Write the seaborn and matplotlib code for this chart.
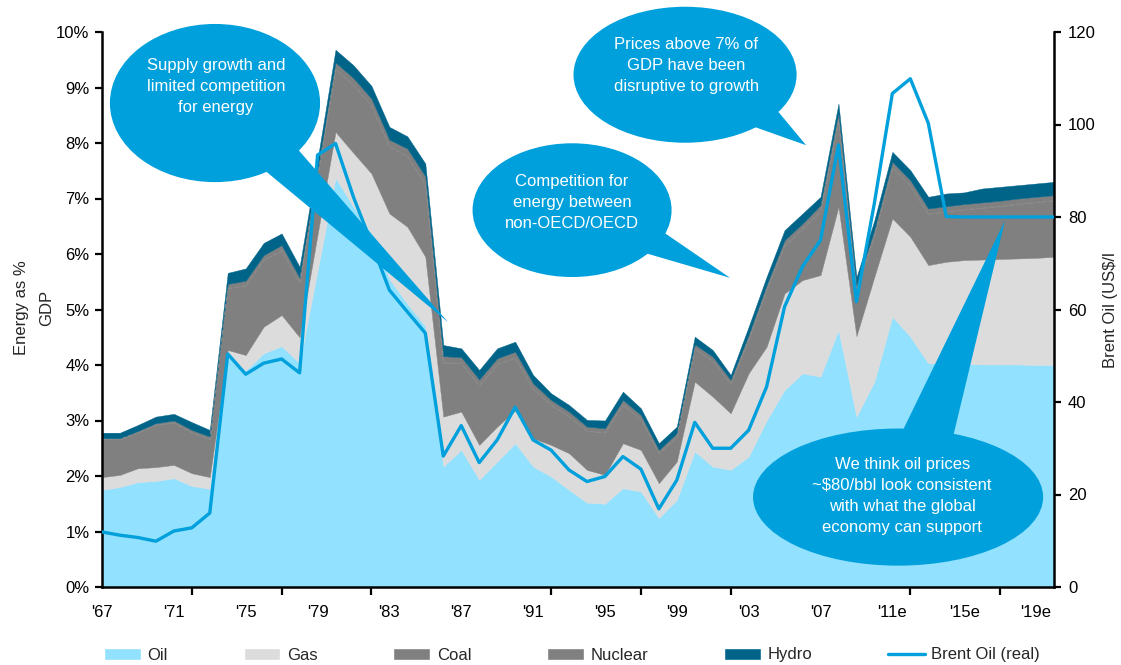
import numpy as np
import matplotlib
matplotlib.use("Agg")
import matplotlib.pyplot as plt
import seaborn as sns
from matplotlib.patches import Ellipse, Polygon, Patch
from matplotlib.lines import Line2D
from matplotlib.ticker import FixedLocator, FixedFormatter

# ---------------- data ----------------
years = list(range(1967, 2021))
oil = [1.75, 1.80, 1.89, 1.91, 1.96, 1.82, 1.77, 4.17, 3.90, 4.21,
       4.34, 4.03, 5.70, 7.37, 6.85, 6.37, 5.55, 5.10, 4.70, 2.17,
       2.47, 1.93, 2.26, 2.59, 2.17, 1.99, 1.75, 1.52, 1.50, 1.78,
       1.72, 1.24, 1.57, 2.44, 2.17, 2.11, 2.35, 3.00, 3.55, 3.85,
       3.79, 4.63, 3.07, 3.70, 4.87, 4.51, 4.03, 4.02, 4.02, 4.01,
       4.01, 4.01, 4.00, 4.00]
gas = [0.23, 0.22, 0.25, 0.25, 0.24, 0.23, 0.21, 0.10, 0.28, 0.48,
       0.56, 0.47, 0.65, 0.83, 0.97, 1.08, 1.18, 1.39, 1.25, 0.90,
       0.69, 0.63, 0.63, 0.59, 0.51, 0.57, 0.66, 0.59, 0.52, 0.81,
       0.75, 0.63, 0.69, 1.26, 1.26, 1.02, 1.50, 1.33, 1.74, 1.68,
       1.83, 2.22, 1.45, 1.89, 1.77, 1.80, 1.77, 1.84, 1.87, 1.89,
       1.90, 1.91, 1.93, 1.95]
coal = [0.68, 0.64, 0.64, 0.76, 0.76, 0.73, 0.68, 1.11, 1.25, 1.20,
        1.16, 0.98, 1.05, 1.13, 1.22, 1.22, 1.20, 1.27, 1.31, 0.97,
        0.87, 1.07, 1.12, 0.95, 0.89, 0.72, 0.66, 0.70, 0.76, 0.69,
        0.55, 0.54, 0.44, 0.59, 0.64, 0.53, 0.61, 1.02, 0.86, 0.92,
        1.15, 1.57, 0.82, 0.74, 0.92, 0.92, 0.92, 0.90, 0.91, 0.93,
        0.95, 0.98, 1.00, 1.01]
nuclear = [0.02, 0.02, 0.03, 0.03, 0.04, 0.05, 0.05, 0.08, 0.09, 0.09,
           0.10, 0.09, 0.10, 0.12, 0.13, 0.13, 0.13, 0.14, 0.14, 0.12,
           0.11, 0.11, 0.11, 0.11, 0.10, 0.09, 0.09, 0.08, 0.08, 0.09,
           0.08, 0.06, 0.07, 0.08, 0.08, 0.07, 0.08, 0.09, 0.10, 0.10,
           0.11, 0.12, 0.10, 0.10, 0.10, 0.10, 0.10, 0.10, 0.10, 0.10,
           0.10, 0.10, 0.10, 0.10]
hydro = [0.10, 0.10, 0.11, 0.12, 0.12, 0.14, 0.12, 0.20, 0.22, 0.22,
         0.21, 0.20, 0.20, 0.23, 0.23, 0.23, 0.23, 0.22, 0.23, 0.20,
         0.16, 0.17, 0.18, 0.18, 0.15, 0.12, 0.12, 0.12, 0.14, 0.15,
         0.12, 0.12, 0.12, 0.14, 0.12, 0.09, 0.15, 0.15, 0.18, 0.18,
         0.15, 0.17, 0.14, 0.18, 0.18, 0.18, 0.21, 0.23, 0.21, 0.25,
         0.25, 0.24, 0.24, 0.24]
brent = [11.9, 11.2, 10.7, 9.9, 12.1, 12.8, 16.0, 50.4, 46.0, 48.4,
         49.3, 46.3, 93.4, 95.9, 84.3, 74.4, 64.2, 59.5, 54.9, 28.3,
         34.9, 26.9, 31.8, 38.9, 31.8, 29.6, 25.3, 22.8, 23.9, 28.2,
         25.5, 16.9, 23.1, 35.6, 30.0, 30.0, 33.9, 43.3, 60.6, 69.3,
         75.0, 95.6, 61.7, 83.0, 106.7, 109.9, 100.3, 80.1, 80, 80,
         80, 80, 80, 80]
label_years = list(range(1967, 2020, 4))
tick_labels = ["'67", "'71", "'75", "'79", "'83", "'87", "'91", "'95",
               "'99", "'03", "'07", "'11e", "'15e", "'19e"]
series_names = ["Oil", "Gas", "Coal", "Nuclear", "Hydro"]
line_name = "Brent Oil (real)"

# ---------------- style ----------------
sns.set_theme(style="white")
plt.rcParams["font.family"] = ["Liberation Sans", "DejaVu Sans"]
plt.rcParams["font.size"] = 12

c_oil = "#91E1FF"
c_gas = "#DCDCDC"
c_coal = "#808080"
c_nuc = "#808080"
c_hydro = "#006489"
c_brent = "#00A0DC"
c_bubble = "#00A0DC"

fig = plt.figure(figsize=(11.21, 6.65), dpi=100)
L, R, T, B = 102 / 1121, 1054 / 1121, 1 - 32 / 665, 1 - 587 / 665
ax = fig.add_axes([L, B, R - L, T - B])

yrs = np.array(years)
stack = np.vstack([oil, gas, coal, nuclear, hydro])
ax.stackplot(yrs, stack, colors=[c_oil, c_gas, c_coal, c_nuc, c_hydro],
             linewidth=0.3, edgecolor="face", zorder=1)
cum = np.cumsum(stack, axis=0)
ax.plot(yrs, cum[2], color="#8e8e8e", lw=0.6, ls=(0, (5, 3)), zorder=2)

ax.set_xlim(1967, 2020)
ax.set_ylim(0, 10)
ax.set_yticks(np.arange(0, 11, 1))
ax.set_yticklabels([f"{i}%" for i in range(0, 11)])
ax.xaxis.set_major_locator(FixedLocator(label_years))
ax.xaxis.set_major_formatter(FixedFormatter(tick_labels))
ax.xaxis.set_minor_locator(FixedLocator(list(range(1967, 2020, 5))))
ax.tick_params(axis="x", which="major", length=0, pad=13, labelsize=12, colors="black")
ax.tick_params(axis="x", which="minor", length=6, width=1.6, direction="out",
               bottom=True, color="black")
ax.tick_params(axis="y", which="major", length=5, width=1.6, direction="out",
               pad=4, labelsize=12, left=True, colors="black")
for s in ["top", "right"]:
    ax.spines[s].set_visible(False)
for s in ["left", "bottom"]:
    ax.spines[s].set_color("black")
    ax.spines[s].set_linewidth(1.8)
ax.grid(False)

ax2 = ax.twinx()
sns.lineplot(x=yrs, y=brent, ax=ax2, color=c_brent, lw=2.4, zorder=3)
ax2.set_ylim(0, 120)
ax2.set_yticks(np.arange(0, 121, 20))
ax2.tick_params(axis="y", which="major", length=5, width=1.6, direction="out",
                pad=5, labelsize=12, right=True, colors="black")
for s in ["top", "left", "bottom"]:
    ax2.spines[s].set_visible(False)
ax2.spines["right"].set_color("black")
ax2.spines["right"].set_linewidth(1.8)
ax2.set_ylabel("")
ax2.grid(False)

# ---------------- speech bubbles (annotation shapes in data coords) ----------------
bubbles = [
    dict(c=(1973.29, 8.72), w=11.7, h=2.85,
         tail=[(1977.6, 8.0), (1975.9, 7.55), (1986.27, 4.77)],
         text="Supply growth and\nlimited competition\nfor energy", t=(1973.35, 9.01)),
    dict(c=(1993.17, 6.79), w=11.08, h=2.41,
         tail=[(1998.0, 6.45), (1996.9, 6.05), (2001.97, 5.57)],
         text="Competition for\nenergy between\nnon-OECD/OECD", t=(1993.17, 6.92)),
    dict(c=(1999.46, 9.23), w=12.42, h=2.45,
         tail=[(2004.3, 8.7), (2002.8, 8.35), (2006.2, 7.96)],
         text="Prices above 7% of\nGDP have been\ndisruptive to growth", t=(1999.52, 9.39)),
    dict(c=(2011.32, 1.62), w=16.15, h=2.47,
         tail=[(2011.4, 2.7), (2014.3, 2.6), (2017.28, 6.61)],
         text="We think oil prices\n~$80/bbl look consistent\nwith what the global\neconomy can support",
         t=(2011.55, 1.64)),
]
for b in bubbles:
    e = Ellipse(b["c"], b["w"], b["h"], transform=ax.transData, facecolor=c_bubble,
                edgecolor="none", zorder=5, clip_on=False)
    ax2.add_patch(e)
    p = Polygon(b["tail"], closed=True, transform=ax.transData, facecolor=c_bubble,
                edgecolor="none", zorder=5, clip_on=False)
    ax2.add_patch(p)
    ax2.text(b["t"][0], b["t"][1], b["text"], transform=ax.transData, ha="center",
             va="center", color="white", fontsize=12, linespacing=1.5, zorder=6)
ax2.set_ylim(0, 120)
ax.set_xlim(1967, 2020)

# ---------------- axis titles ----------------
fig.text(34 / 1121, 1 - 308 / 665, "Energy as %\nGDP", rotation=90, ha="center",
         va="center", fontsize=12, linespacing=1.9)
fig.text(1110 / 1121, 1 - 310 / 665, "Brent Oil (US$/l", rotation=90, ha="center",
         va="center", fontsize=12)

# ---------------- legend ----------------
handles = [Patch(facecolor=c) for c in [c_oil, c_gas, c_coal, c_nuc, c_hydro]]
handles.append(Line2D([0], [0], color=c_brent, lw=2.4))
fig.legend(handles, series_names + [line_name], loc="center left",
           bbox_to_anchor=(104 / 1121, 1 - 655 / 665), ncol=6, frameon=False,
           fontsize=12, handlelength=2.2, handleheight=0.75, handletextpad=0.4,
           columnspacing=4.55, borderpad=0, borderaxespad=0)

fig.savefig("out.png", dpi=100)
